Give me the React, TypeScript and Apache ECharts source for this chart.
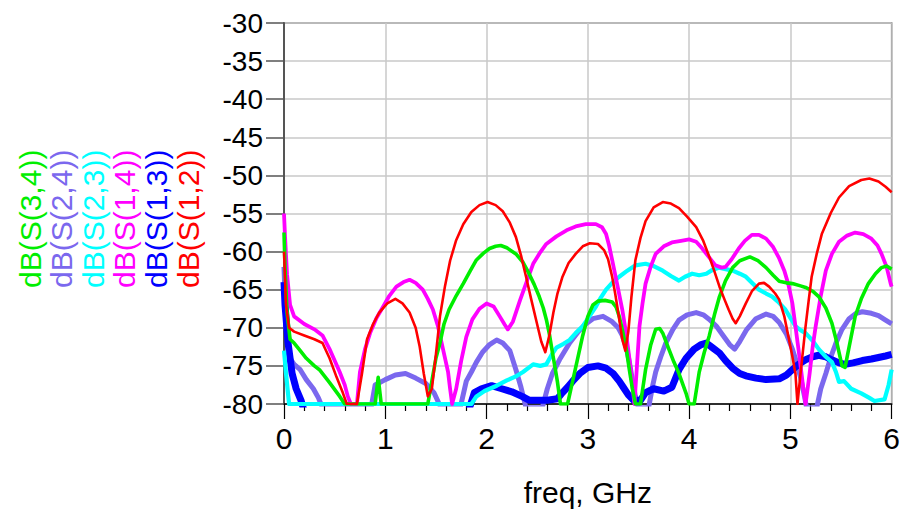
import React, { useEffect, useRef } from "react";
import * as echarts from "echarts";

const seriesNames = ["dB(S(3,4))", "dB(S(2,4))", "dB(S(2,3))", "dB(S(1,4))", "dB(S(1,3))", "dB(S(1,2))"];
const seriesColors = ["#00ee00", "#7b68ee", "#00ffff", "#ff00ff", "#0000ff", "#ff0000"];
const xTicks = [0, 1, 2, 3, 4, 5, 6];
const yTicks = [-80, -75, -70, -65, -60, -55, -50, -45, -40, -35, -30];
const xTitle = "freq, GHz";

// [freq GHz, dB]  (values below -80 are clipped by the plot, as in the source)
const s34: number[][] = [
  [0, -57.5], [0.01, -62], [0.03, -68], [0.06, -71.5], [0.1, -72], [0.16, -73], [0.22, -74], [0.3, -75], [0.35, -75.5],
  [0.45, -77.2], [0.55, -79], [0.6, -80], [0.9, -80], [0.93, -76.5], [0.96, -80], [1.42, -80], [1.46, -77], [1.5, -74],
  [1.54, -72], [1.58, -69.5], [1.63, -67.6], [1.7, -65.8], [1.77, -64.2], [1.84, -62.5], [1.9, -61.1], [1.97, -60.2],
  [2.03, -59.6], [2.09, -59.3], [2.14, -59.2], [2.2, -59.5], [2.29, -60.3], [2.36, -61.4], [2.42, -62.9], [2.47, -64.3],
  [2.52, -65.9], [2.56, -67.4], [2.59, -68.9], [2.62, -70.8], [2.65, -73.2], [2.68, -75.5], [2.7, -77.1], [2.73, -80],
  [2.8, -80], [2.85, -77], [2.9, -74], [2.95, -71], [3.0, -68.5], [3.05, -67], [3.1, -66.5], [3.17, -66.4], [3.24, -66.6],
  [3.28, -67.3], [3.31, -68.5], [3.34, -70.2], [3.38, -72.8], [3.41, -75.5], [3.44, -78], [3.47, -80], [3.52, -80],
  [3.57, -75.5], [3.62, -72.3], [3.67, -70.2], [3.71, -70.1], [3.74, -70.7], [3.8, -72.8], [3.85, -74.5], [3.9, -76],
  [3.97, -78.6], [4.0, -80], [4.05, -80], [4.1, -75.8], [4.15, -73.2], [4.2, -71], [4.25, -68.3], [4.3, -65.9],
  [4.36, -63.8], [4.43, -62.1], [4.5, -61.2], [4.6, -60.7], [4.68, -61.2], [4.76, -62.1], [4.83, -63.1], [4.89, -63.9],
  [4.96, -64.1], [5.02, -64.2], [5.1, -64.5], [5.15, -64.7], [5.22, -65.2], [5.28, -65.9], [5.35, -67.4], [5.41, -69.4],
  [5.46, -72], [5.51, -75], [5.54, -75.2], [5.58, -72.5], [5.64, -68.5], [5.7, -66.2], [5.77, -64.2], [5.84, -62.9],
  [5.9, -62.1], [5.95, -61.9], [6.0, -62.3]
];
const s24: number[][] = [
  [0, -62], [0.02, -70], [0.06, -74], [0.1, -74.8], [0.16, -75.5], [0.22, -76.8], [0.29, -78], [0.34, -79.2], [0.38, -80.5],
  [0.86, -80.5], [0.9, -77.5], [1.0, -76.8], [1.1, -76.2], [1.2, -76], [1.3, -76.6], [1.4, -77.3], [1.48, -78.5],
  [1.55, -80.5], [1.74, -80.5], [1.8, -77], [1.85, -75.8], [1.9, -74.5], [1.96, -73.2], [2.03, -72.2], [2.1, -71.6],
  [2.16, -72], [2.23, -73], [2.29, -75.5], [2.34, -77.8], [2.39, -80.5], [2.55, -80.5], [2.6, -78], [2.65, -76],
  [2.72, -74.2], [2.82, -72], [2.9, -70.6], [2.97, -69.6], [3.05, -68.8], [3.15, -68.5], [3.24, -69.2], [3.3, -70],
  [3.34, -71], [3.38, -72.6], [3.41, -74.5], [3.44, -76.8], [3.47, -79], [3.5, -80.5], [3.6, -80.5], [3.64, -77.6],
  [3.67, -75.8], [3.72, -73.8], [3.77, -72], [3.84, -70.2], [3.9, -69], [3.98, -68.3], [4.07, -68], [4.14, -68.3],
  [4.2, -68.9], [4.27, -69.8], [4.33, -70.9], [4.4, -72.2], [4.45, -72.8], [4.5, -71.8], [4.57, -70.2], [4.66, -68.8],
  [4.76, -68.2], [4.83, -68.5], [4.89, -69.3], [4.96, -70.8], [5.02, -72.8], [5.06, -74.5], [5.1, -76.5], [5.14, -79],
  [5.16, -80.5], [5.26, -80.5], [5.3, -78], [5.35, -76], [5.4, -73.8], [5.45, -72], [5.51, -70.2], [5.58, -68.8],
  [5.65, -68.1], [5.71, -67.9], [5.8, -68.1], [5.87, -68.4], [5.94, -69], [6.0, -69.5]
];
const s23: number[][] = [
  [0, -73], [0.02, -76], [0.05, -80], [1.85, -80], [1.9, -79], [1.98, -78.3], [2.1, -77.6], [2.2, -76.9],
  [2.3, -76.3], [2.36, -75.8], [2.46, -74.8], [2.53, -75], [2.59, -74.8], [2.64, -73.6], [2.69, -72.6], [2.76, -72.1],
  [2.82, -71.6], [2.88, -70.7], [2.95, -69.8], [3.0, -68.8], [3.08, -67.2], [3.13, -66], [3.18, -65], [3.24, -64.1],
  [3.31, -63.3], [3.39, -62.5], [3.47, -61.8], [3.57, -61.6], [3.65, -61.9], [3.74, -62.5], [3.82, -63.2], [3.9, -63.8],
  [3.96, -63.3], [4.03, -62.9], [4.1, -63.1], [4.17, -62.9], [4.23, -62.4], [4.3, -62.1], [4.36, -62.3], [4.43, -62.5],
  [4.5, -62.9], [4.56, -63.3], [4.62, -64.1], [4.69, -65], [4.76, -65.5], [4.82, -65.9], [4.88, -66.6], [4.95, -67.6],
  [5.0, -68.7], [5.05, -69.8], [5.1, -70.3], [5.15, -70.7], [5.22, -71.7], [5.28, -72.8], [5.35, -73.8], [5.41, -74.5],
  [5.45, -75.8], [5.48, -77.1], [5.53, -77], [5.6, -78], [5.7, -78.6], [5.78, -79.2], [5.83, -79.6], [5.93, -79.4],
  [5.97, -77.5], [6.0, -75.5]
];
const s14: number[][] = [
  [0, -55], [0.01, -58], [0.03, -63], [0.06, -67], [0.1, -68.5], [0.2, -69.5], [0.3, -70.2], [0.38, -71], [0.45, -72.8],
  [0.5, -74.3], [0.55, -75.8], [0.6, -77.5], [0.63, -79], [0.66, -80], [0.72, -80], [0.75, -75.8], [0.8, -72.8],
  [0.85, -70.7], [0.91, -68.8], [0.98, -67.2], [1.04, -65.8], [1.11, -64.6], [1.18, -64], [1.24, -63.7], [1.3, -64.1],
  [1.37, -65], [1.42, -66.2], [1.47, -67.6], [1.52, -69.8], [1.57, -72.8], [1.62, -75.8], [1.64, -78], [1.66, -80],
  [1.7, -78], [1.75, -74.3], [1.8, -71.2], [1.86, -68.9], [1.93, -67.5], [2.0, -66.8], [2.07, -67.2], [2.13, -68.5],
  [2.18, -69.6], [2.21, -70.2], [2.26, -69.2], [2.33, -66.4], [2.4, -63.8], [2.46, -61.6], [2.53, -60.1], [2.59, -59],
  [2.69, -58], [2.79, -57.2], [2.88, -56.7], [2.98, -56.4], [3.08, -56.4], [3.14, -56.8], [3.18, -57.7], [3.21, -59.2],
  [3.24, -61.1], [3.29, -64.3], [3.34, -67.6], [3.38, -70.9], [3.41, -74], [3.44, -77.5], [3.46, -80], [3.48, -76],
  [3.51, -69.8], [3.54, -66.8], [3.57, -64.2], [3.62, -62], [3.67, -60.3], [3.75, -59.3], [3.83, -58.8], [3.92, -58.6],
  [4.0, -58.4], [4.07, -58.7], [4.13, -59.6], [4.2, -60.8], [4.26, -61.8], [4.32, -62.1], [4.36, -62], [4.42, -61],
  [4.49, -59.6], [4.55, -58.6], [4.62, -57.8], [4.69, -57.8], [4.76, -58.3], [4.83, -59.4], [4.89, -60.9], [4.94, -62.5],
  [4.98, -64.3], [5.02, -66.8], [5.05, -69.8], [5.08, -72.8], [5.11, -76], [5.13, -78.2], [5.15, -80], [5.19, -76],
  [5.22, -72.5], [5.25, -69.8], [5.3, -65.8], [5.35, -62.5], [5.41, -60.3], [5.48, -58.7], [5.56, -57.9], [5.64, -57.5],
  [5.72, -57.7], [5.8, -58.3], [5.86, -59.2], [5.9, -60.3], [5.95, -62], [5.99, -64.2], [6.0, -64.6]
];
const s13: number[][] = [
  [0, -64], [0.01, -67], [0.04, -72], [0.08, -76], [0.12, -78], [0.17, -79.6], [0.2, -81], [1.82, -81], [1.88, -78.5],
  [1.95, -78], [2.05, -77.6], [2.15, -78], [2.25, -78.4], [2.35, -79], [2.42, -79.5], [2.6, -79.5], [2.7, -79.3],
  [2.75, -78.5], [2.8, -77.8], [2.85, -77], [2.92, -76], [3.0, -75.2], [3.1, -75], [3.18, -75.3], [3.25, -76],
  [3.31, -77], [3.35, -77.8], [3.4, -78.8], [3.45, -79.5], [3.52, -79.5], [3.57, -78.5], [3.65, -78], [3.75, -78.3],
  [3.83, -77.8], [3.9, -75.5], [3.97, -74], [4.05, -72.8], [4.12, -72.2], [4.17, -72], [4.23, -72.6], [4.3, -73.3],
  [4.36, -74.3], [4.43, -75.3], [4.5, -76], [4.56, -76.3], [4.66, -76.6], [4.76, -76.8], [4.89, -76.7], [4.96, -76.2],
  [5.02, -75.5], [5.08, -74.8], [5.15, -74.2], [5.22, -73.8], [5.28, -73.6], [5.35, -73.8], [5.41, -74.2], [5.48, -74.6],
  [5.54, -74.8], [5.62, -74.6], [5.71, -74.3], [5.8, -74.1], [5.87, -73.9], [5.94, -73.7], [6.0, -73.5]
];
const s12: number[][] = [
  [0, -60], [0.02, -67], [0.05, -70], [0.1, -70.5], [0.2, -71], [0.3, -71.5], [0.38, -72], [0.45, -74], [0.52, -76.5],
  [0.58, -78.5], [0.62, -80], [0.72, -80], [0.77, -76], [0.82, -71.5], [0.88, -69.5], [0.94, -68], [1.02, -66.8],
  [1.1, -66.2], [1.17, -66.8], [1.24, -68], [1.3, -70], [1.34, -72.5], [1.38, -76], [1.42, -79], [1.46, -78],
  [1.5, -73.5], [1.54, -68.5], [1.59, -64.5], [1.64, -61.2], [1.7, -58.5], [1.77, -56.4], [1.85, -54.8], [1.93, -53.9],
  [2.01, -53.5], [2.09, -53.9], [2.16, -54.7], [2.23, -56.2], [2.29, -58.1], [2.34, -60.5], [2.39, -63.3], [2.44, -66.2],
  [2.49, -69], [2.54, -71.8], [2.58, -73.2], [2.62, -71], [2.66, -68], [2.7, -65.5], [2.75, -63.3], [2.81, -61.5],
  [2.88, -60.3], [2.95, -59.3], [3.02, -58.9], [3.1, -59], [3.16, -59.8], [3.2, -61], [3.24, -63.3], [3.27, -65.5],
  [3.3, -68], [3.34, -71.5], [3.37, -73], [3.4, -70.5], [3.43, -66], [3.47, -61.1], [3.52, -58.2], [3.57, -56],
  [3.65, -54.2], [3.74, -53.5], [3.82, -53.7], [3.9, -54.3], [3.98, -55.4], [4.07, -56.8], [4.14, -58.6], [4.2, -60.7],
  [4.25, -62.6], [4.3, -64.6], [4.35, -66.3], [4.39, -67.6], [4.43, -68.8], [4.46, -69.4], [4.5, -68.5], [4.56, -66.8],
  [4.62, -65.2], [4.69, -64.2], [4.74, -64.1], [4.79, -64.6], [4.85, -65.5], [4.89, -66.3], [4.94, -68.5], [4.98, -71.1],
  [5.02, -73.8], [5.05, -76], [5.07, -80], [5.1, -76], [5.15, -69.8], [5.18, -66.5], [5.21, -63.3], [5.26, -60.3],
  [5.31, -57.7], [5.4, -54.9], [5.48, -52.9], [5.58, -51.4], [5.7, -50.6], [5.78, -50.4], [5.87, -50.8], [5.94, -51.5],
  [6.0, -52.2]
];

const seriesData = [s34, s24, s23, s14, s13, s12];
const lineWidths = [3.6, 5, 4.2, 3.8, 7, 2.6];
const drawOrder = [1, 4, 2, 3, 0, 5];

const FONT = '"Liberation Sans", Arial, Helvetica, sans-serif';

export default function App() {
  const ref = useRef<HTMLDivElement>(null);
  useEffect(() => {
    if (!ref.current) return;
    const chart = echarts.init(ref.current, null, { renderer: "svg" });
    const legendGraphics = seriesNames.map((name, i) => ({
      type: "text",
      x: 30 + i * 31.6,
      y: 288,
      rotation: Math.PI / 2,
      style: {
        text: name,
        fill: seriesColors[i],
        font: `30px ${FONT}`,
        align: "left",
        verticalAlign: "middle",
      },
    }));
    chart.setOption({
      animation: false,
      backgroundColor: "#ffffff",
      grid: {
        left: 284,
        top: 23,
        right: 10,
        bottom: 103,
        show: true,
        borderColor: "#666666",
        borderWidth: 1.5,
      },
      xAxis: {
        type: "value",
        min: xTicks[0],
        max: xTicks[xTicks.length - 1],
        interval: 1,
        axisLine: { show: true, lineStyle: { color: "#000", width: 1.5 } },
        axisTick: { show: true, inside: false, length: 15, lineStyle: { color: "#000", width: 1.2 } },
        minorTick: { show: true, splitNumber: 5, length: 7, lineStyle: { color: "#000", width: 1.2 } },
        splitLine: { show: true, lineStyle: { color: "#c8c8c8", width: 1.5 } },
        axisLabel: { color: "#000", fontSize: 30, fontFamily: FONT, margin: 19 },
        name: xTitle,
        nameLocation: "middle",
        nameGap: 73,
        nameTextStyle: { color: "#000", fontSize: 30, fontFamily: FONT },
      },
      yAxis: {
        type: "value",
        min: yTicks[0],
        max: yTicks[yTicks.length - 1],
        interval: 5,
        axisLine: { show: true, lineStyle: { color: "#555", width: 2 } },
        axisTick: { show: true, inside: false, length: 18, lineStyle: { color: "#555", width: 1.5 } },
        splitLine: { show: true, lineStyle: { color: "#c8c8c8", width: 1.5 } },
        axisLabel: { color: "#000", fontSize: 28, fontFamily: FONT, margin: 21 },
      },
      graphic: legendGraphics,
      series: drawOrder.map((i) => ({
        name: seriesNames[i],
        type: "line",
        data: seriesData[i],
        showSymbol: false,
        symbol: "none",
        clip: true,
        lineStyle: { color: seriesColors[i], width: lineWidths[i], join: "round" },
        itemStyle: { color: seriesColors[i] },
      })),
    });
    return () => chart.dispose();
  }, []);
  return <div ref={ref} style={{ width: 903, height: 512, position: "absolute", left: 0, top: 0 }} />;
}
